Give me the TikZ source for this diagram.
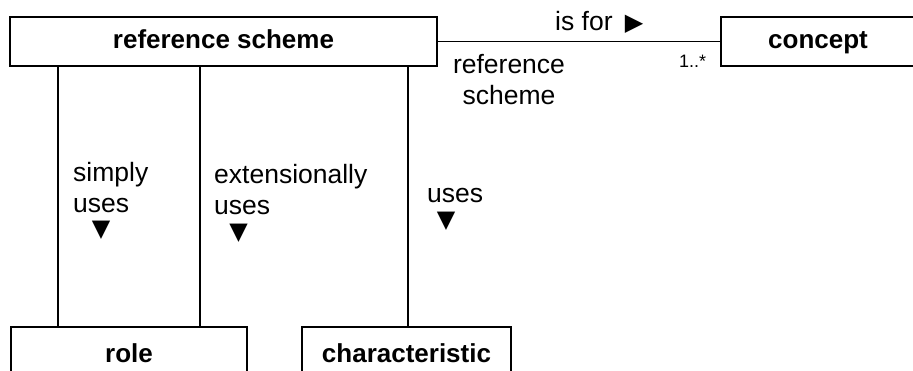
\documentclass[tikz,border=0pt]{standalone}
\usepackage{fontspec}
\setmainfont{Liberation Sans}
\newfontfamily\symfont{DejaVu Sans}
\usetikzlibrary{calc}
\begin{document}
\begin{tikzpicture}[x=1pt,y=-1pt,
  umlbox/.style={draw, line width=2pt, rectangle, inner sep=0pt, minimum height=49pt,
    font=\bfseries\fontsize{26}{30}\selectfont, text height=18pt, text depth=5pt},
  assoc/.style={line width=1.2pt},
  lbl/.style={inner sep=0pt, font=\fontsize{26.5}{31}\selectfont},
  mult/.style={inner sep=0pt, font=\fontsize{18}{20}\selectfont},
  tri/.style={inner sep=0pt, font=\symfont\fontsize{24}{24}\selectfont}]
\useasboundingbox (0,0) rectangle (913,370);
% classes
\node[umlbox, minimum width=427pt] (rs) at (223.5,41.5) {reference scheme};
\node[umlbox, minimum width=194pt] (concept) at (818,41.5) {concept};
\node[umlbox, minimum width=236pt, minimum height=57pt] (role) at (129,355.5) {role};
\node[umlbox, minimum width=209pt, minimum height=57pt] (char) at (406.5,355.5) {characteristic};
% connector x positions
\coordinate (c1) at (58,0);
\coordinate (c2) at (200,0);
\coordinate (c3) at (408,0);
% associations
\draw[assoc] (rs.east) -- (concept.west);
\draw[assoc] (rs.south -| c1) -- (role.north -| c1);
\draw[assoc] (rs.south -| c2) -- (role.north -| c2);
\draw[assoc] (rs.south -| c3) -- (char.north -| c3);
% labels
\node[lbl, anchor=base west] (isfor) at (555,30) {is for};
\node[tri] (trir) at (634,24) {▶};
\node[lbl, anchor=north, align=center] (rsrole) at (509,51.3) {\strut reference\\scheme};
\node[mult, anchor=base west] (m1) at (679,67) {1..*};
\node[lbl, anchor=north west, align=left] (simply) at (73,159.3) {\strut simply\\uses};
\node[tri] (tri1) at (101,230.5) {▼};
\node[lbl, anchor=north west, align=left] (ext) at (214,161.3) {\strut extensionally\\uses};
\node[tri] (tri2) at (238.5,233) {▼};
\node[lbl, anchor=base west] (uses) at (427,202) {uses};
\node[tri] (tri3) at (446,221.5) {▼};
\end{tikzpicture}
\end{document}
